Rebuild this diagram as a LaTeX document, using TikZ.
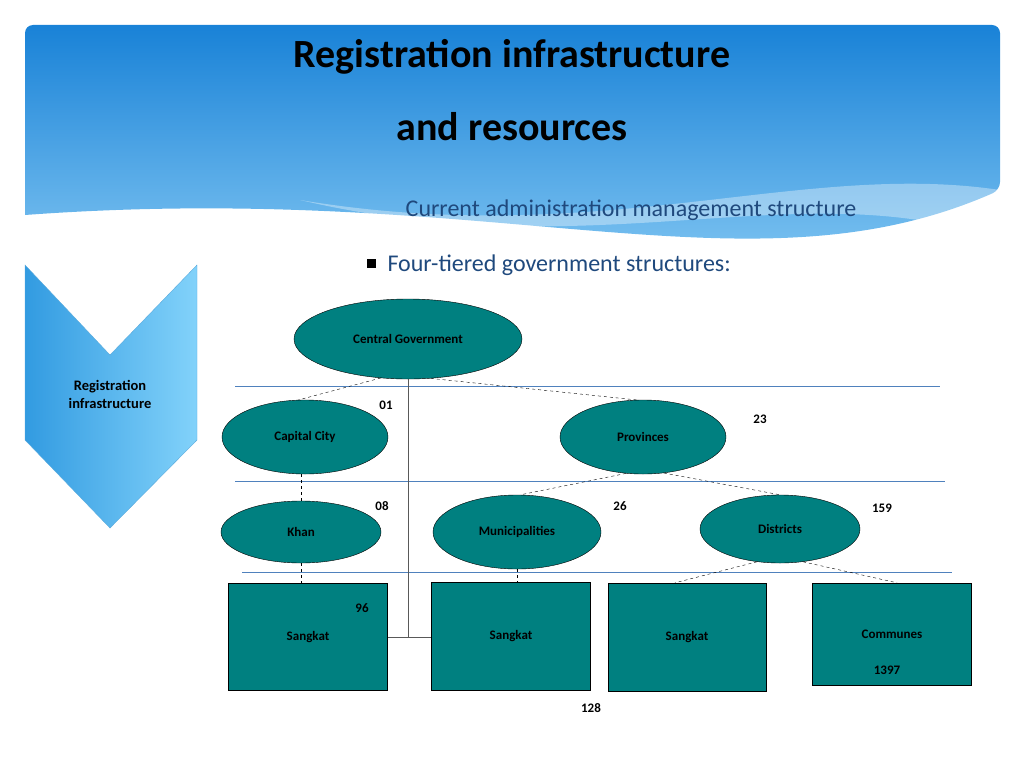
\documentclass[tikz,border=0pt]{standalone}
\usepackage{fontspec}
\setmainfont{Carlito}
\usetikzlibrary{shapes.geometric}
\definecolor{teal}{RGB}{0,128,128}
\definecolor{navy}{RGB}{31,73,125}
\definecolor{rule}{RGB}{79,129,189}
\tikzset{
	tier/.style={ellipse, draw=black, fill=teal, font=\bfseries\fontsize{13}{15}\selectfont},
	unit/.style={rectangle, draw=black, fill=teal, minimum width=159pt, minimum height=107pt, font=\bfseries\fontsize{13}{15}\selectfont},
	count/.style={font=\bfseries\fontsize{13}{15}\selectfont},
	link/.style={dashed, thin},
}
\begin{document}
\begin{tikzpicture}[x=1pt,y=-1pt]
	\useasboundingbox (0,0) rectangle (1024,768);
	% header
	\shade[top color={rgb,255:red,25;green,130;blue,215}, bottom color={rgb,255:red,140;green,205;blue,245}, rounded corners=8pt]
		(25,215) -- (25,25) -- (1000,25) -- (1000,190) [sharp corners]
		.. controls (750,300) and (500,180) .. (25,215);
	\fill[white, opacity=0.35] (300,200) .. controls (600,270) and (800,170) .. (1000,240) -- (1000,190) .. controls (800,160) and (600,250) .. (300,200);
	\node[font=\bfseries\fontsize{40}{44}\selectfont] (title1) at (512,57) {Registration infrastructure};
	\node[font=\bfseries\fontsize{40}{44}\selectfont] (title2) at (512,127) {and resources};
	\node[navy, font=\fontsize{24}{28}\selectfont] (sub) at (631,210) {Current administration management structure};
	\fill[black] (367,259) rectangle (376,268);
	\node[navy, font=\fontsize{24}{28}\selectfont, anchor=west] (bullet) at (384,265) {Four-tiered government structures:};
	% chevron
	\shade[left color={rgb,255:red,50;green,155;blue,225}, right color={rgb,255:red,130;green,210;blue,250}, draw={rgb,255:red,90;green,170;blue,220}]
		(25,265) -- (110,355) -- (197,265) -- (197,440) -- (110,528) -- (25,440) -- cycle;
	\node[font=\bfseries\fontsize{14.5}{18}\selectfont, align=center] (chev) at (110,394) {Registration\\infrastructure};
	% rules
	\draw[rule] (235,386) -- (940,386);
	\draw[rule] (235,481) -- (945,481);
	\draw[rule] (242,572) -- (952,572);
	% tiers
	\node[tier, minimum width=228pt, minimum height=80pt] (central) at (408,339) {Central Government};
	\node[tier, minimum width=166pt, minimum height=74pt] (capital) at (305,437) {Capital City};
	\node[tier, minimum width=166pt, minimum height=74pt] (prov) at (643,437) {Provinces};
	\node[tier, minimum width=160pt, minimum height=62pt] (khan) at (301,532) {Khan};
	\node[tier, minimum width=168pt, minimum height=74pt] (muni) at (517,532) {Municipalities};
	\node[tier, minimum width=160pt, minimum height=68pt] (dist) at (780,529) {Districts};
	\node[unit] (sang1) at (308,637) {Sangkat};
	\node[unit, minimum width=159pt, minimum height=108pt] (sang2) at (511,636) {Sangkat};
	\node[unit, minimum width=158pt, minimum height=108pt] (sang3) at (687,637) {Sangkat};
	\node[unit, minimum height=102pt] (comm) at (892,634) {Communes};
	% links
	\draw[gray!70!black, thick] (central.south) -- (408,637);
	\draw[gray!70!black, thick] (sang1.east |- 408,637) -- (sang2.west |- 408,637);
	\draw[link] (central.235) -- (capital.100);
	\draw[link] (central.300) -- (prov.100);
	\draw[link] (capital.south -| khan) -- (khan.north);
	\draw[link] (muni.south) -- (muni.south |- sang2.north);
	\draw[link] (prov.245) -- (muni.85);
	\draw[link] (prov.300) -- (dist.90);
	\draw[link] (khan.south) -- (sang1.north -| khan);
	\draw[link] (dist.235) -- (sang3.north -| 675,0);
	\draw[link] (dist.305) -- (comm.north -| 897,0);
	% counts
	\node[count] (n01) at (386,405) {01};
	\node[count] (n23) at (760,419) {23};
	\node[count] (n08) at (382,506) {08};
	\node[count] (n26) at (620,506) {26};
	\node[count] (n159) at (882,508) {159};
	\node[count] (n96) at (362,608) {96};
	\node[count] (n128) at (591,708) {128};
	\node[count] (n1397) at (887,670) {1397};
\end{tikzpicture}
\end{document}
